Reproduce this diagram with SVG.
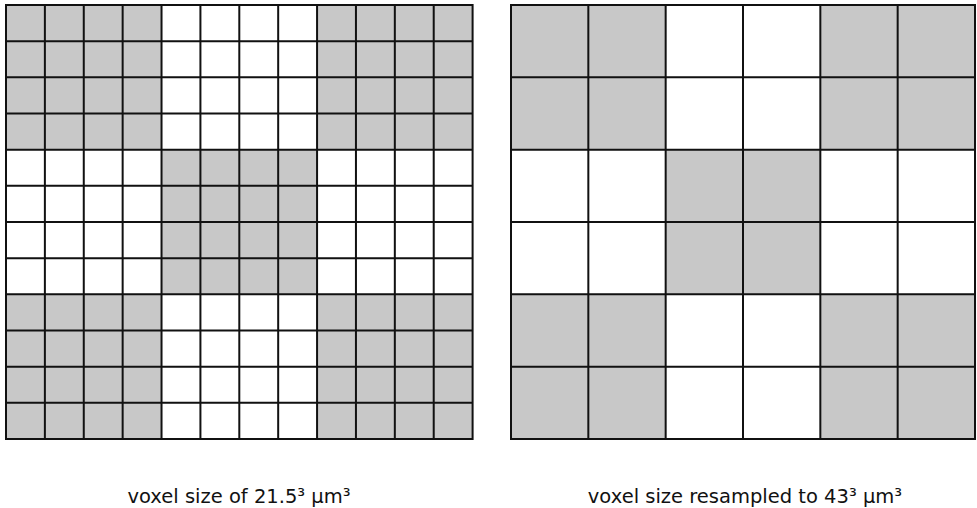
<svg xmlns="http://www.w3.org/2000/svg" width="977" height="508" viewBox="0 0 977 508">
<style>
.g{fill:#c8c8c8;stroke:none}
.ln{fill:none;stroke:#111;stroke-width:2;stroke-linecap:square}
.t{font-family:"DejaVu Sans","Liberation Sans",sans-serif;font-size:19.5px;fill:#111;text-anchor:middle}
</style>
<rect width="977" height="508" fill="#fff"/>
<g id="grid-fine">
<rect class="g" x="6" y="5" width="155.53" height="144.67"/>
<rect class="g" x="317.07" y="5" width="155.53" height="144.67"/>
<rect class="g" x="161.53" y="149.67" width="155.54" height="144.66"/>
<rect class="g" x="6" y="294.33" width="155.53" height="144.67"/>
<rect class="g" x="317.07" y="294.33" width="155.53" height="144.67"/>
<path class="ln" d="M6 5V439M44.88 5V439M83.77 5V439M122.65 5V439M161.53 5V439M200.42 5V439M239.3 5V439M278.18 5V439M317.07 5V439M355.95 5V439M394.83 5V439M433.72 5V439M472.6 5V439
M6 5H472.6M6 41.17H472.6M6 77.33H472.6M6 113.5H472.6M6 149.67H472.6M6 185.83H472.6M6 222H472.6M6 258.17H472.6M6 294.33H472.6M6 330.5H472.6M6 366.67H472.6M6 402.83H472.6M6 439H472.6"/>
</g>
<g id="grid-coarse">
<rect class="g" x="511" y="5" width="154.67" height="144.67"/>
<rect class="g" x="820.33" y="5" width="154.67" height="144.67"/>
<rect class="g" x="665.67" y="149.67" width="154.66" height="144.66"/>
<rect class="g" x="511" y="294.33" width="154.67" height="144.67"/>
<rect class="g" x="820.33" y="294.33" width="154.67" height="144.67"/>
<path class="ln" d="M511 5V439M588.33 5V439M665.67 5V439M743 5V439M820.33 5V439M897.67 5V439M975 5V439
M511 5H975M511 77.33H975M511 149.67H975M511 222H975M511 294.33H975M511 366.67H975M511 439H975"/>
</g>
<g id="labels">
<text class="t" x="239" y="503">voxel size of 21.5³ µm³</text>
<text class="t" x="745" y="503">voxel size resampled to 43³ µm³</text>
</g>
</svg>
